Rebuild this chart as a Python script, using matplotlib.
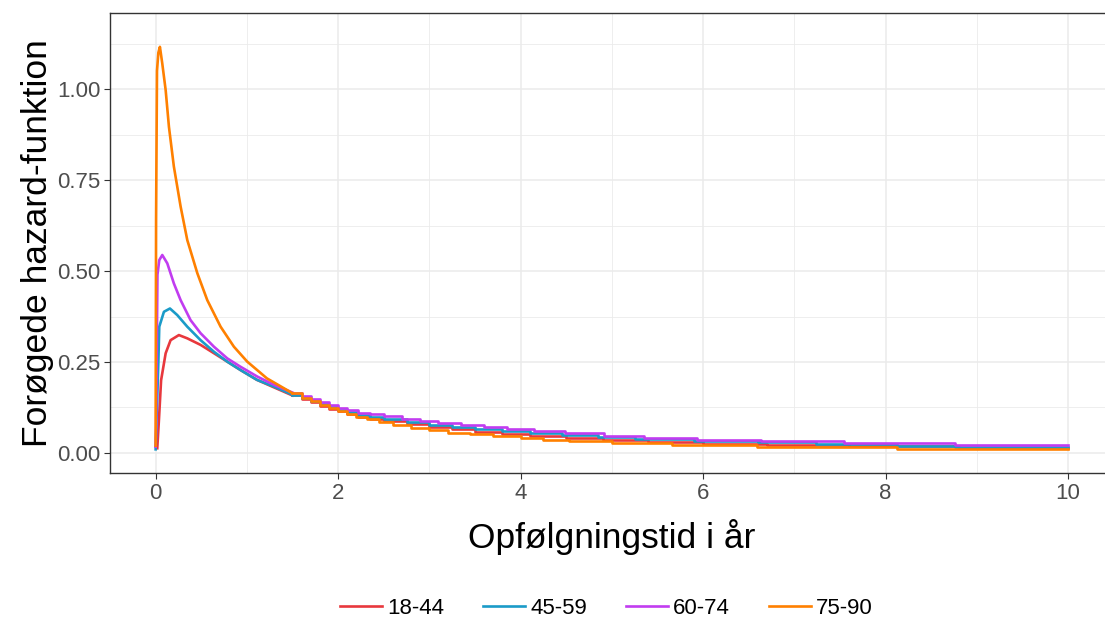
import matplotlib.pyplot as plt
import numpy as np

plt.rcParams['font.family'] = ['Liberation Sans', 'DejaVu Sans']

groups = ['18-44', '45-59', '60-74', '75-90']
colors = ['#e8383d', '#1a9bc8', '#c13cf0', '#ff8000']

# early part of each curve (smooth, x < 1.5)
early_x = {
    '18-44': [0.018, 0.036, 0.06, 0.11, 0.164, 0.255, 0.347, 0.493, 0.64, 0.785, 0.93, 1.11, 1.30, 1.50],
    '45-59': [0.0, 0.03, 0.04, 0.091, 0.157, 0.237, 0.347, 0.493, 0.64, 0.785, 0.93, 1.11, 1.30, 1.50],
    '60-74': [0.0, 0.005, 0.02, 0.04, 0.073, 0.128, 0.20, 0.274, 0.383, 0.493, 0.639, 0.785, 0.93, 1.114, 1.30, 1.50],
    '75-90': [0.0, 0.005, 0.015, 0.03, 0.047, 0.073, 0.11, 0.146, 0.20, 0.274, 0.347, 0.457, 0.566, 0.712, 0.858, 1.004, 1.22, 1.44, 1.50],
}
early_y = {
    '18-44': [0.013, 0.09, 0.20, 0.274, 0.31, 0.324, 0.315, 0.297, 0.274, 0.251, 0.228, 0.201, 0.180, 0.158],
    '45-59': [0.01, 0.25, 0.347, 0.388, 0.397, 0.379, 0.347, 0.310, 0.278, 0.251, 0.228, 0.201, 0.182, 0.160],
    '60-74': [0.017, 0.063, 0.49, 0.53, 0.544, 0.521, 0.466, 0.420, 0.365, 0.329, 0.292, 0.260, 0.237, 0.210, 0.187, 0.166],
    '75-90': [0.02, 0.64, 1.05, 1.10, 1.116, 1.07, 0.997, 0.896, 0.787, 0.677, 0.585, 0.494, 0.420, 0.347, 0.292, 0.251, 0.205, 0.173, 0.164],
}

# step-wise tail (value holds from x until the next x)
tail_x = {
    '18-44': [1.50, 1.60, 1.70, 1.80, 1.90, 2.00, 2.10, 2.22, 2.35, 2.50, 2.75, 3.00, 3.25, 3.50, 3.80, 4.10, 4.50, 4.90, 5.40, 6.00, 6.70, 7.60, 8.80, 10.0],
    '45-59': [1.50, 1.60, 1.70, 1.80, 1.90, 2.00, 2.10, 2.22, 2.35, 2.50, 2.75, 3.00, 3.25, 3.50, 3.80, 4.10, 4.45, 4.85, 5.25, 5.90, 6.60, 7.24, 8.12, 8.76, 10.0],
    '60-74': [1.50, 1.60, 1.70, 1.80, 1.90, 2.00, 2.10, 2.22, 2.35, 2.50, 2.70, 2.90, 3.10, 3.35, 3.60, 3.85, 4.15, 4.49, 4.91, 5.35, 5.93, 6.63, 7.54, 8.76, 10.0],
    '75-90': [1.50, 1.60, 1.70, 1.80, 1.90, 2.00, 2.10, 2.20, 2.32, 2.45, 2.60, 2.80, 3.00, 3.20, 3.45, 3.70, 4.00, 4.25, 4.53, 5.00, 5.66, 6.59, 8.12, 10.0],
}
tail_y = {
    '18-44': [0.158, 0.148, 0.139, 0.130, 0.122, 0.114, 0.107, 0.100, 0.094, 0.088, 0.080, 0.071, 0.065, 0.058, 0.052, 0.047, 0.040, 0.036, 0.031, 0.026, 0.022, 0.018, 0.014, 0.014],
    '45-59': [0.160, 0.151, 0.142, 0.134, 0.126, 0.119, 0.112, 0.105, 0.099, 0.094, 0.086, 0.078, 0.071, 0.066, 0.060, 0.054, 0.049, 0.044, 0.039, 0.034, 0.030, 0.024, 0.019, 0.016, 0.016],
    '60-74': [0.166, 0.156, 0.147, 0.139, 0.131, 0.124, 0.117, 0.110, 0.106, 0.101, 0.094, 0.088, 0.082, 0.077, 0.071, 0.066, 0.060, 0.054, 0.048, 0.042, 0.037, 0.033, 0.028, 0.022, 0.022],
    '75-90': [0.164, 0.152, 0.142, 0.132, 0.123, 0.115, 0.107, 0.100, 0.093, 0.084, 0.077, 0.069, 0.062, 0.056, 0.051, 0.046, 0.041, 0.036, 0.032, 0.027, 0.021, 0.016, 0.011, 0.011],
}

fig = plt.figure(figsize=(11.05, 6.24), dpi=100)
ax = fig.add_axes([110 / 1105, (624 - 473) / 624, (1113.7 - 110) / 1105, (473 - 13) / 624])

for g, c in zip(groups, colors):
    ax.plot(early_x[g], early_y[g], color=c, lw=1.9, solid_joinstyle='round')
    ax.step(tail_x[g], tail_y[g], where='post', color=c, lw=1.9, label=g)

ax.set_xlim(-0.5, 10.5)
ax.set_ylim(-0.055, 1.209)
ax.set_xticks([0, 2, 4, 6, 8, 10])
ax.set_xticks([1, 3, 5, 7, 9], minor=True)
ax.set_yticks([0, 0.25, 0.5, 0.75, 1.0])
ax.set_yticks([0.125, 0.375, 0.625, 0.875, 1.125], minor=True)
ax.set_yticklabels(['0.00', '0.25', '0.50', '0.75', '1.00'])
ax.grid(which='major', color='#ebebeb', lw=1.1)
ax.grid(which='minor', color='#ebebeb', lw=0.6)
ax.set_axisbelow(True)
ax.tick_params(which='major', length=4, width=0.8, color='#333333', labelsize=16, labelcolor='#4d4d4d', pad=3)
ax.tick_params(which='minor', length=0)
for s in ax.spines.values():
    s.set_color('#333333')
    s.set_linewidth(1.0)

ax.set_xlabel('Opfølgningstid i år', fontsize=25.5, labelpad=11)
ax.set_ylabel('Forøgede hazard-funktion', fontsize=25.5, labelpad=2)

fig.legend(loc='center', bbox_to_anchor=(606.5 / 1105, (624 - 608) / 624), ncol=4, frameon=False,
           fontsize=16, handlelength=1.9, columnspacing=1.75, handletextpad=0.22)

fig.savefig('out.png', dpi=100)
